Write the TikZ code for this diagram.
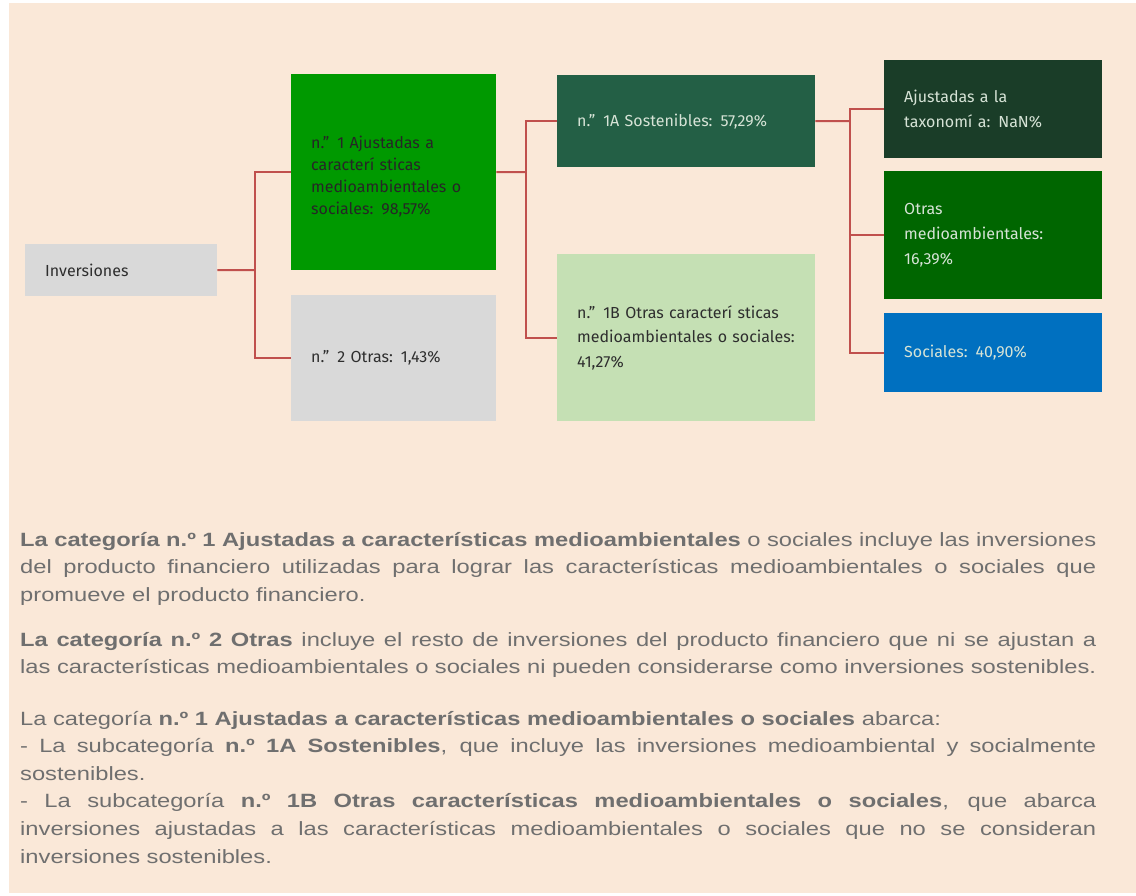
\documentclass[tikz,border=0pt]{standalone}
\usepackage{fontspec}
\setmainfont[FakeStretch=1.235]{Liberation Sans}
\newfontfamily\boxfont{Fira Sans}
\setlength\parindent{0pt}
\definecolor{bgpeach}{HTML}{FAE8D8}
\definecolor{conncol}{HTML}{C0504D}
\definecolor{greyfill}{HTML}{D9D9D9}
\definecolor{greenA}{HTML}{009900}
\definecolor{darkgreen}{HTML}{235F45}
\definecolor{lightgreen}{HTML}{C5E0B4}
\definecolor{taxfill}{HTML}{1A3D28}
\definecolor{otrasfill}{HTML}{006600}
\definecolor{socfill}{HTML}{0070C0}
\definecolor{lighttext}{HTML}{D6E3D6}
\definecolor{darktext}{HTML}{2E2E2E}
\definecolor{bodygray}{HTML}{6F6F6F}
\newcommand\parafont{\fontsize{19.2}{27.6}\selectfont\hyphenpenalty=10000 \exhyphenpenalty=10000 \emergencystretch=20pt\relax}
\begin{document}
\begin{tikzpicture}[x=1pt,y=-1pt,
  box/.style={rectangle, anchor=north west, inner xsep=20pt, inner ysep=0pt, align=left,
    font={\boxfont\fontsize{16}{24.6}\selectfont}},
  conn/.style={draw=conncol, line width=2pt},
  para/.style={anchor=base west, inner sep=0pt, text width=1076pt, align=justify, text=bodygray,
    font={\parafont}}]
\useasboundingbox (0,0) rectangle (1136,895);
\fill[bgpeach] (9,3) rectangle (1136,893);

% boxes
\node[box, fill=greyfill, text=darktext, text width=152pt, minimum height=52pt] (inv) at (25,244) {Inversiones};
\node[box, fill=greenA, text=black!85, text width=165pt, minimum height=196pt,
  font={\boxfont\fontsize{16}{22}\selectfont}] (b1) at (291,74) {\rule{0pt}{21pt}n.” 1 Ajustadas a\\caracterí sticas\\medioambientales o\\sociales: 98,57\%};
\node[box, fill=greyfill, text=darktext, text width=165pt, minimum height=126pt] (b2) at (291,295) {n.” 2 Otras: 1,43\%};
\node[box, fill=darkgreen, text=lighttext, text width=218pt, minimum height=92pt] (b1a) at (557,75) {n.” 1A Sostenibles: 57,29\%};
\node[box, fill=lightgreen, text=darktext, text width=218pt, minimum height=167pt] (b1b) at (557,254) {n.” 1B Otras caracterí sticas\\medioambientales o sociales:\\41,27\%};
\node[box, fill=taxfill, text=lighttext, text width=178pt, minimum height=98pt] (tax) at (884,60) {Ajustadas a la\\taxonomí a: NaN\%};
\node[box, fill=otrasfill, text=lighttext, text width=178pt, minimum height=128pt] (otr) at (884,171) {Otras\\medioambientales:\\16,39\%};
\node[box, fill=socfill, text=lighttext, text width=178pt, minimum height=79pt] (soc) at (884,313) {Sociales: 40,90\%};

% connectors
\coordinate (j1) at (255,270);
\coordinate (j2) at (526,172);
\coordinate (j3) at (850,121);
\draw[conn] (inv.east) -- (j1);
\draw[conn] (j1) |- (b1.west);
\draw[conn] (j1) |- (b2.west);
\draw[conn] (b1.east) -- (j2);
\draw[conn] (j2) |- (b1a.west);
\draw[conn] (j2) |- (b1b.west);
\draw[conn] (b1a.east) -- (j3);
\draw[conn] (j3) |- (tax.west);
\draw[conn] (j3) |- (otr.west);
\draw[conn] (j3) |- (soc.west);

% explanatory text
\node[para] (p1) at (20,546) {\textbf{La categoría n.º 1 Ajustadas a características medioambientales} o sociales incluye las inversiones\linebreak del producto financiero utilizadas para lograr las características medioambientales o sociales que\linebreak promueve el producto financiero.};
\node[para] (p2) at (20,646) {\textbf{La categoría n.º 2 Otras} incluye el resto de inversiones del producto financiero que ni se ajustan a\linebreak las características medioambientales o sociales ni pueden considerarse como inversiones sostenibles.};
\node[para] (p3) at (20,725) {La categoría \textbf{n.º 1 Ajustadas a características medioambientales o sociales} abarca:\\
- La subcategoría \textbf{n.º 1A Sostenibles}, que incluye las inversiones medioambiental y socialmente\linebreak sostenibles.\\
- La subcategoría \textbf{n.º 1B Otras características medioambientales o sociales}, que abarca\linebreak inversiones ajustadas a las características medioambientales o sociales que no se consideran\linebreak inversiones sostenibles.};
\end{tikzpicture}
\end{document}
